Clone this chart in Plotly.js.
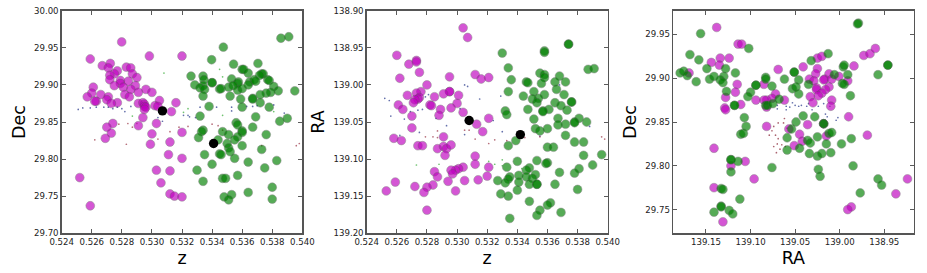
<!DOCTYPE html>
<html><head><meta charset="utf-8">
<script src="https://cdn.plot.ly/plotly-3.0.1.min.js"></script>
<style>html,body{margin:0;padding:0;background:#fff}</style></head>
<body><div id="chart" style="width:927px;height:273px"></div>
<script>
// Panel 1: z vs Dec
const zdPurpleZ=[.52799,.5259,.52983,.5320,.5267,.52723,.5271,.5283,.52859,.5277,.5275,.5272,.5287,.5290,.5272,.5279,.52843,.5279,.5275,.5289,.5261,.5281,.5286,.5296,.5260,.5300,.5291,.5282,.5285,.5266,.5257,.5271,.5270,.5263,.5262,.5277,.5273,.5305,.5316,.5291,.5294,.5295,.5295,.5296,.5295,.5302,.5304,.5313,.5294,.5274,.5270,.5291,.5303,.5273,.5300,.5320,.5269,.5299,.5312,.5311,.5320,.5303,.5312,.5306,.5312,.5315,.5320,.5252,.5259];
const zdPurpleDec=[29.958,29.935,29.939,29.939,29.926,29.929,29.923,29.924,29.923,29.919,29.915,29.913,29.915,29.910,29.907,29.906,29.905,29.902,29.899,29.899,29.897,29.897,29.894,29.894,29.889,29.890,29.890,29.887,29.884,29.887,29.884,29.884,29.880,29.878,29.878,29.876,29.875,29.879,29.876,29.875,29.876,29.874,29.871,29.870,29.867,29.872,29.871,29.864,29.856,29.848,29.843,29.845,29.848,29.835,29.834,29.836,29.828,29.820,29.823,29.806,29.801,29.785,29.784,29.768,29.753,29.750,29.749,29.775,29.737];
const zdGreenZ=[.53858,.5391,.53475,.53397,.53543,.53705,.5360,.5361,.5364,.5373,.5374,.53716,.5326,.5334,.53346,.5353,.5340,.5340,.5365,.5368,.5369,.5377,.5378,.53575,.5357,.53285,.5334,.5332,.5335,.5345,.5346,.5351,.5354,.5357,.5360,.5364,.5381,.5384,.5395,.5379,.5376,.5372,.5334,.5352,.5359,.5367,.5367,.5372,.5378,.5360,.5338,.5332,.5369,.5390,.5385,.5356,.5357,.5367,.5334,.5333,.5360,.5360,.5347,.5351,.5376,.5331,.5344,.5357,.5355,.5350,.5351,.5360,.5373,.5352,.5345,.5346,.5335,.5355,.5364,.5340,.5383,.5375,.5330,.5357,.5347,.5349,.5334,.5380,.5364,.5353,.5348,.5351,.5380];
const zdGreenDec=[29.963,29.965,29.951,29.934,29.928,29.929,29.921,29.921,29.916,29.915,29.915,29.913,29.912,29.912,29.907,29.908,29.903,29.903,29.904,29.907,29.905,29.907,29.906,29.904,29.902,29.900,29.899,29.896,29.894,29.8945,29.895,29.897,29.899,29.893,29.895,29.900,29.898,29.892,29.892,29.890,29.889,29.887,29.885,29.885,29.881,29.882,29.881,29.876,29.870,29.870,29.871,29.858,29.857,29.855,29.851,29.849,29.846,29.843,29.839,29.837,29.838,29.836,29.837,29.833,29.833,29.829,29.826,29.830,29.826,29.821,29.815,29.818,29.813,29.810,29.807,29.806,29.806,29.801,29.796,29.793,29.798,29.788,29.785,29.778,29.774,29.774,29.770,29.762,29.755,29.752,29.749,29.745,29.746];
const zdBlackZ=[.5307,.5341];
const zdBlackDec=[29.865,29.821];
const zdBlueZ=[.5251,.5254,.5259,.5263,.5268,.5271,.5274,.5277,.5280,.5282,.5286,.5304,.5307,.5321,.5324,.5325,.5329,.5332,.5343,.5353,.5353,.5363,.5367,.5370,.5381,.5388];
const zdBlueDec=[29.867,29.869,29.869,29.870,29.870,29.870,29.868,29.870,29.868,29.864,29.871,29.856,29.851,29.859,29.859,29.857,29.856,29.870,29.870,29.870,29.865,29.871,29.871,29.872,29.873,29.862];
const zdRedZ=[.5262,.5283,.5278,.5284,.5287,.5290,.5304,.5312,.5318,.5324,.5340,.5344,.5347,.5373,.5396,.5398];
const zdRedDec=[29.826,29.820,29.847,29.848,29.843,29.848,29.827,29.837,29.843,29.844,29.847,29.845,29.839,29.818,29.818,29.821];
const zdDotGreenZ=[.5287,.5308,.5324,.5321,.5345,.5347,.5347,.5381];
const zdDotGreenDec=[29.858,29.916,29.868,29.863,29.921,29.911,29.859,29.864];

// Panel 2: z vs RA
const zrPurpleZ=[.5304,.5307,.5260,.5268,.5273,.5273,.5275,.5262,.5295,.5312,.5316,.5321,.5280,.5276,.5273,.5295,.5295,.5291,.5301,.5267,.5285,.5275,.5274,.5272,.5271,.5300,.5282,.5283,.5261,.5264,.5289,.5296,.5304,.5270,.5288,.5321,.5313,.5270,.5317,.5291,.5258,.5263,.5274,.5277,.5287,.5291,.5293,.5296,.5292,.5312,.5312,.5304,.5301,.5299,.5296,.5297,.5285,.5287,.5321,.5320,.5314,.5305,.5294,.5259,.5272,.5284,.5280,.5278,.5299,.5253,.5280];
const zrPurpleRA=[138.923,138.936,138.960,138.972,138.967,138.969,138.983,138.991,138.989,138.986,138.992,138.990,139.000,139.009,139.011,139.009,139.009,139.012,139.014,139.014,139.016,139.017,139.019,139.020,139.024,139.025,139.027,139.028,139.027,139.033,139.033,139.031,139.037,139.042,139.041,139.045,139.053,139.058,139.063,139.070,139.072,139.075,139.082,139.082,139.086,139.083,139.086,139.081,139.095,139.096,139.107,139.111,139.113,139.115,139.115,139.120,139.117,139.124,139.111,139.123,139.128,139.129,139.130,139.131,139.137,139.135,139.138,139.145,139.143,139.143,139.169];
const zrGreenZ=[.5374,.5374,.5358,.5358,.5330,.5334,.5387,.5391,.5355,.5358,.5358,.5368,.5336,.5346,.5347,.5356,.5365,.5372,.5366,.5351,.5334,.5371,.5358,.5344,.5354,.5350,.5353,.5365,.5376,.5376,.5369,.5373,.5361,.5347,.5357,.5357,.5332,.5333,.5351,.5367,.5381,.5386,.5378,.5378,.5372,.5367,.5352,.5355,.5360,.5372,.5339,.5378,.5384,.5334,.5360,.5364,.5384,.5396,.5353,.5340,.5360,.5359,.5390,.5333,.5348,.5346,.5381,.5368,.5378,.5352,.5341,.5346,.5335,.5334,.5350,.5327,.5332,.5341,.5348,.5353,.5353,.5365,.5334,.5329,.5340,.5380,.5348,.5362,.5360,.5369,.5355,.5353,.5335];
const zrGreenRA=[138.945,138.945,138.954,138.956,138.957,138.977,138.979,138.978,138.984,138.986,138.990,138.988,138.993,138.996,138.997,138.998,138.996,138.996,139.006,139.009,139.009,139.013,139.013,139.015,139.018,139.019,139.024,139.024,139.023,139.023,139.028,139.034,139.033,139.033,139.035,139.036,139.035,139.040,139.046,139.045,139.045,139.050,139.050,139.051,139.053,139.054,139.059,139.062,139.059,139.068,139.075,139.077,139.077,139.082,139.084,139.084,139.095,139.094,139.102,139.103,139.105,139.106,139.108,139.111,139.112,139.115,139.113,139.118,139.119,139.121,139.122,139.124,139.124,139.127,139.126,139.129,139.132,139.131,139.134,139.134,139.134,139.134,139.150,139.147,139.142,139.141,139.157,139.159,139.162,139.172,139.169,139.176,139.180];
const zrBlackZ=[.5308,.5342];
const zrBlackRA=[139.048,139.067];
const zrBlueZ=[.5252,.5255,.5256,.5265,.5269,.5274,.5277,.5279,.5281,.5286,.5293,.5275,.5262,.5305,.5307,.5315,.5302,.5305,.5329,.5324,.5355,.5330,.5388,.5368];
const zrBlueRA=[139.018,139.021,139.042,139.046,139.036,139.034,139.033,139.016,139.013,139.045,139.055,139.064,139.068,139.000,139.002,139.019,139.032,139.067,139.015,139.048,139.069,139.063,139.056,139.000];
const zrRedZ=[.5279,.5284,.5287,.5287,.5305,.5308,.5312,.5321,.5325,.5333,.5345,.5355,.5396,.5398];
const zrRedRA=[139.070,139.070,139.062,139.071,139.061,139.061,139.073,139.079,139.074,139.075,139.071,139.070,139.070,139.073];
const zrDotGreenZ=[.5273,.5288,.5321,.5325,.5330,.5330,.5343];
const zrDotGreenRA=[139.108,139.107,139.103,139.107,139.101,139.109,139.113];

// Panel 3: RA vs Dec
const rdPurpleRA=[139.138,139.134,139.144,139.135,139.124,139.114,139.110,139.169,139.069,139.041,139.025,139.020,139.025,139.027,139.034,139.029,139.012,139.001,139.017,139.018,139.009,139.026,139.026,139.012,139.016,139.020,139.024,138.991,138.984,138.973,138.966,138.960,139.115,139.085,139.117,139.128,139.072,139.076,139.082,139.085,139.094,139.062,139.033,139.030,139.009,139.010,139.129,139.128,139.111,139.082,138.990,139.018,139.036,139.082,139.057,138.969,139.045,139.015,139.042,139.051,139.141,139.122,139.106,139.096,139.141,138.987,138.991,138.924,138.937,139.131];
const rdPurpleDec=[29.958,29.923,29.918,29.915,29.923,29.939,29.939,29.906,29.910,29.913,29.923,29.925,29.911,29.905,29.899,29.897,29.905,29.902,29.899,29.898,29.899,29.889,29.887,29.890,29.887,29.883,29.880,29.897,29.914,29.926,29.928,29.934,29.893,29.893,29.884,29.878,29.882,29.877,29.875,29.875,29.875,29.875,29.879,29.872,29.875,29.868,29.866,29.864,29.870,29.867,29.856,29.848,29.847,29.845,29.842,29.835,29.836,29.834,29.828,29.823,29.820,29.800,29.805,29.785,29.775,29.753,29.750,29.785,29.768,29.736];
const rdGreenRA=[139.156,139.168,139.158,139.179,139.175,139.171,139.161,139.149,139.146,139.141,139.130,139.128,139.117,139.134,139.131,139.127,139.102,139.100,139.103,139.094,139.094,139.083,139.083,139.076,139.083,139.081,139.075,139.068,139.062,139.051,139.051,139.046,139.053,139.049,139.046,139.032,139.013,139.035,139.006,138.996,138.995,138.991,138.997,138.995,138.988,138.957,138.946,138.946,138.979,138.980,139.118,139.118,139.107,139.105,139.111,139.108,139.041,139.028,139.049,139.054,139.059,139.018,139.018,139.025,139.012,139.009,138.987,139.036,139.033,139.015,138.998,139.059,139.045,139.034,139.025,139.020,139.010,138.985,139.122,139.122,139.122,139.114,139.076,139.024,139.022,138.977,138.957,138.953,139.133,139.131,139.112,139.133,139.133,139.141,139.124,139.120];
const rdGreenDec=[29.951,29.927,29.921,29.906,29.908,29.903,29.896,29.911,29.899,29.902,29.902,29.911,29.906,29.898,29.895,29.885,29.934,29.884,29.879,29.892,29.892,29.901,29.899,29.891,29.869,29.869,29.871,29.876,29.899,29.907,29.907,29.898,29.888,29.890,29.882,29.920,29.928,29.893,29.904,29.913,29.915,29.904,29.894,29.893,29.880,29.904,29.915,29.915,29.963,29.962,29.869,29.869,29.855,29.845,29.836,29.837,29.857,29.856,29.850,29.842,29.832,29.848,29.848,29.833,29.837,29.838,29.831,29.829,29.826,29.825,29.825,29.818,29.820,29.814,29.811,29.814,29.815,29.800,29.807,29.807,29.793,29.805,29.798,29.796,29.788,29.769,29.785,29.778,29.774,29.773,29.762,29.754,29.753,29.747,29.749,29.745];
const rdBlueRA=[139.070,139.070,139.060,139.060,139.056,139.053,139.050,139.046,139.043,139.037,139.035,139.031,139.024,139.018,139.016,139.014,139.011,139.002,139.004];
const rdBlueDec=[29.869,29.865,29.868,29.864,29.867,29.872,29.869,29.868,29.869,29.868,29.871,29.864,29.868,29.871,29.859,29.856,29.868,29.855,29.852];
const rdRedRA=[139.079,139.076,139.074,139.069,139.063,139.062,139.059,139.072,139.069,139.074,139.070,139.071,139.065,139.067,139.061];
const rdRedDec=[29.835,29.840,29.845,29.849,29.849,29.854,29.843,29.835,29.831,29.822,29.825,29.815,29.824,29.819,29.822];

const xTicksZ=[0.524,0.526,0.528,0.530,0.532,0.534,0.536,0.538,0.540];
const yTicksDec1=[29.70,29.75,29.80,29.85,29.90,29.95,30.00];
const yTicksRA=[138.90,138.95,139.00,139.05,139.10,139.15,139.20];
const xTicksRA3=[139.15,139.10,139.05,139.00,138.95];
const yTicksDec3=[29.75,29.80,29.85,29.90,29.95];

const PURPLE='#bf00bf', GREEN='#008000';
function big(x,y,c,xa,ya){return {type:'scatter',mode:'markers',x:x,y:y,xaxis:xa,yaxis:ya,showlegend:false,hoverinfo:'skip',
  marker:{color:c,size:8.8,opacity:0.66,line:{color:'#555',width:0.5}}};}
function dot(x,y,c,xa,ya){return {type:'scatter',mode:'markers',x:x,y:y,xaxis:xa,yaxis:ya,showlegend:false,hoverinfo:'skip',
  marker:{color:c,size:1.7,opacity:0.7,line:{width:0}}};}
function blk(x,y,xa,ya){return {type:'scatter',mode:'markers',x:x,y:y,xaxis:xa,yaxis:ya,showlegend:false,hoverinfo:'skip',
  marker:{color:'#000',size:9.4,line:{width:0}}};}

const data=[
 dot(zdBlueZ,zdBlueDec,'#223388','x','y'),dot(zdRedZ,zdRedDec,'#993344','x','y'),dot(zdDotGreenZ,zdDotGreenDec,'#33aa33','x','y'),
 big(zdPurpleZ,zdPurpleDec,PURPLE,'x','y'),big(zdGreenZ,zdGreenDec,GREEN,'x','y'),blk(zdBlackZ,zdBlackDec,'x','y'),
 dot(zrBlueZ,zrBlueRA,'#223388','x2','y2'),dot(zrRedZ,zrRedRA,'#993344','x2','y2'),dot(zrDotGreenZ,zrDotGreenRA,'#33aa33','x2','y2'),
 big(zrPurpleZ,zrPurpleRA,PURPLE,'x2','y2'),big(zrGreenZ,zrGreenRA,GREEN,'x2','y2'),blk(zrBlackZ,zrBlackRA,'x2','y2'),
 dot(rdBlueRA,rdBlueDec,'#223388','x3','y3'),dot(rdRedRA,rdRedDec,'#882233','x3','y3'),
 big(rdPurpleRA,rdPurpleDec,PURPLE,'x3','y3'),big(rdGreenRA,rdGreenDec,GREEN,'x3','y3')
];

const W=927,H=273,TOP=10.8,BOT=233.2;
const tickFont={family:'DejaVu Sans',size:8.6,color:'#222'};
const titleFont={family:'DejaVu Sans',size:17.5,color:'#000'};
function ax(dom,range,ticks,fmt,title,standoff){return {
  domain:dom,range:range,tickmode:'array',tickvals:ticks,ticktext:ticks.map(v=>v.toFixed(fmt)),
  ticks:'inside',ticklen:4,tickwidth:0.8,tickcolor:'#333',showgrid:false,zeroline:false,
  showline:true,linecolor:'#555',linewidth:1.4,mirror:'allticks',tickfont:tickFont,
  title:{text:title,font:titleFont,standoff:standoff},automargin:false};}
const yd=[(H-BOT)/H,(H-TOP)/H];
const layout={width:W,height:H,margin:{l:0,r:0,t:0,b:0},paper_bgcolor:'#fff',plot_bgcolor:'#fff',showlegend:false,
 xaxis:ax([61.7/W,302.3/W],[0.524,0.540],xTicksZ,3,'z',6),
 yaxis:Object.assign(ax(yd,[29.70,30.00],yTicksDec1,2,'Dec',4),{anchor:'x'}),
 xaxis2:Object.assign(ax([366.7/W,607.7/W],[0.524,0.540],xTicksZ,3,'z',6),{anchor:'y2'}),
 yaxis2:Object.assign(ax(yd,[139.20,138.90],yTicksRA,2,'RA',4),{anchor:'x2'}),
 xaxis3:Object.assign(ax([673/W,913.7/W],[139.187,138.917],xTicksRA3,2,'RA',6),{anchor:'y3'}),
 yaxis3:Object.assign(ax(yd,[29.723,29.977],yTicksDec3,2,'Dec',4),{anchor:'x3'})
};
Plotly.newPlot('chart',data,layout,{staticPlot:true,displayModeBar:false});
</script></body></html>
